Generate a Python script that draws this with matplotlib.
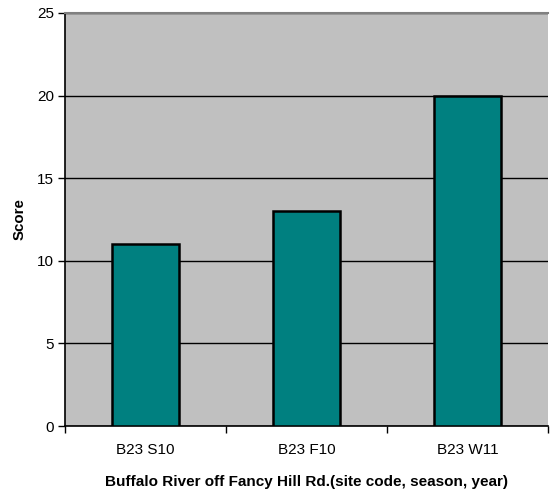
import matplotlib
matplotlib.use("Agg")
import matplotlib.pyplot as plt
import numpy as np

categories = ["B23 S10", "B23 F10", "B23 W11"]
scores = [11, 13, 20]
yticks = [0, 5, 10, 15, 20, 25]

plt.rcParams['font.family'] = ['Liberation Sans', 'DejaVu Sans']

fig = plt.figure(figsize=(5.51, 4.9), dpi=100)
ax = fig.add_axes([65/551, 1-426/490, (548-65)/551, (426-13)/490])
ax.set_facecolor('#C0C0C0')

x = np.arange(len(categories))
ax.bar(x, scores, width=0.41, color='#008080', edgecolor='black', linewidth=1.8, zorder=3)

ax.set_xlim(-0.5, len(categories) - 0.5)
ax.set_ylim(0, 25)
ax.set_yticks(yticks)
ax.yaxis.grid(True, color='black', linewidth=1.0, zorder=1)
ax.set_axisbelow(True)

ax.set_xticks(x)
ax.set_xticklabels(categories, fontsize=11)
ax.tick_params(axis='x', length=0, pad=12)
ax.set_xticks(np.arange(-0.5, len(categories)), minor=True)
ax.tick_params(axis='x', which='minor', length=5, width=1, direction='out')
ax.tick_params(axis='y', length=5, width=1, direction='out', labelsize=11, pad=3)

for s in ['left', 'bottom']:
    ax.spines[s].set_color('black')
    ax.spines[s].set_linewidth(1.2)
ax.spines['right'].set_visible(False)
ax.spines['top'].set_color('#808080')
ax.spines['top'].set_linewidth(1.5)

ax.set_ylabel("Score", fontsize=10.8, fontweight='bold', labelpad=7.5)
ax.set_xlabel("Buffalo River off Fancy Hill Rd.(site code, season, year)", fontsize=11, fontweight='bold', labelpad=13)

fig.savefig("out.png", dpi=100)
